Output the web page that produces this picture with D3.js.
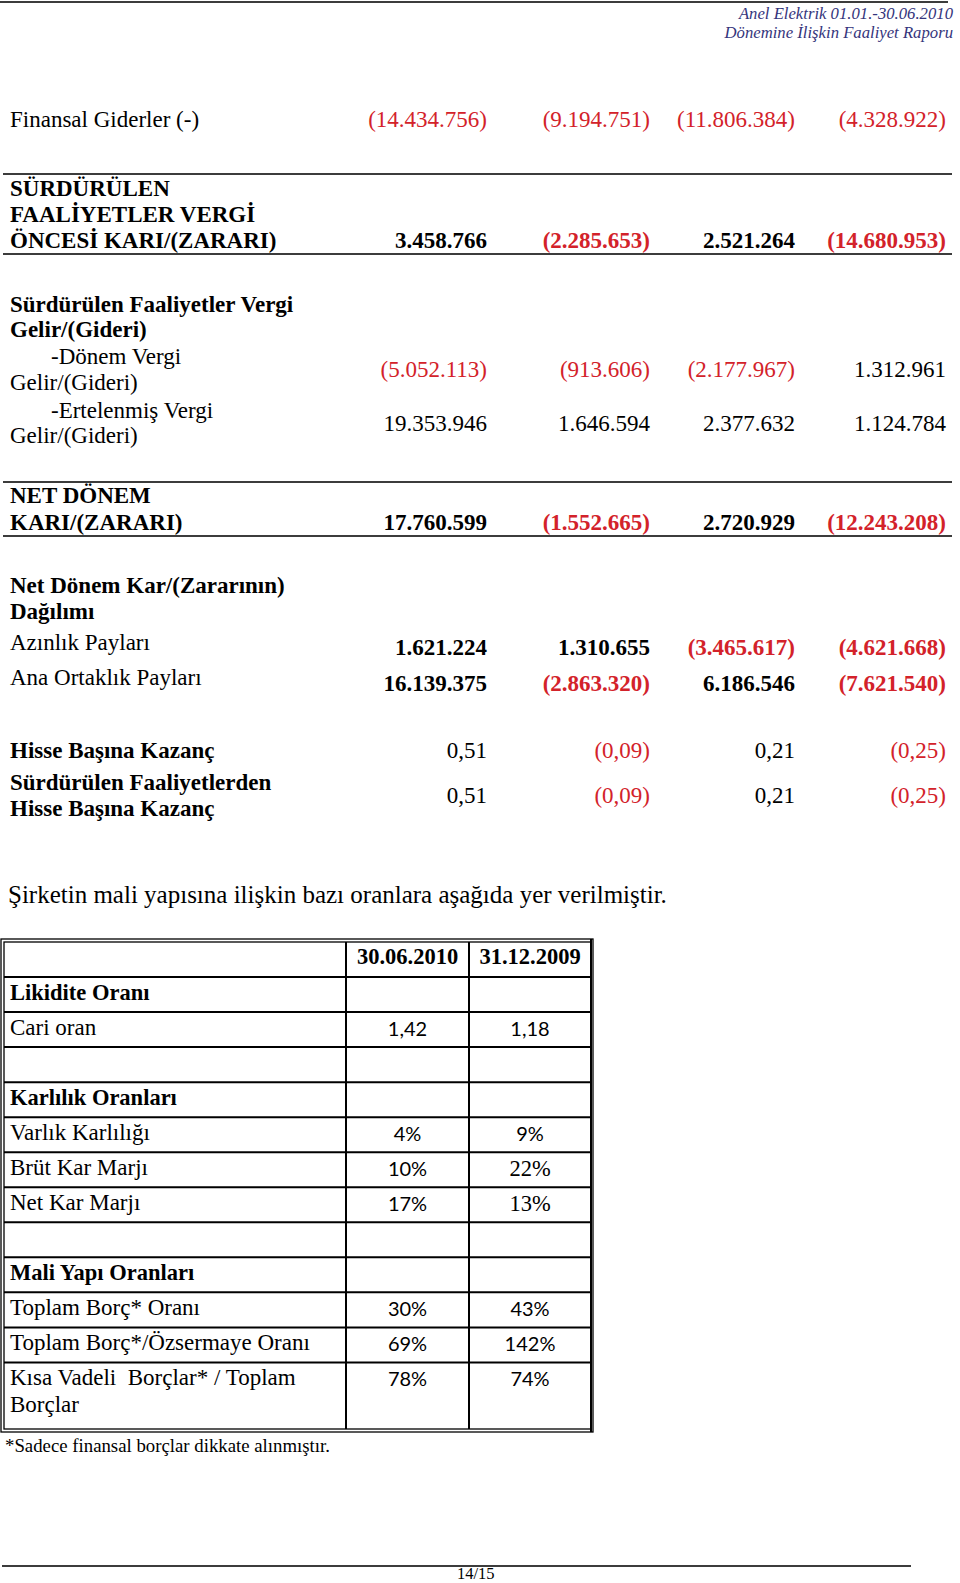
<!DOCTYPE html>
<html>
<head>
<meta charset="utf-8">
<script src="https://cdn.jsdelivr.net/npm/d3@7"></script>
<style>
  html, body { margin: 0; padding: 0; background: #fff; }
  svg { display: block; }
  text { font-family: "Liberation Serif", "Times New Roman", serif; white-space: pre; }
</style>
</head>
<body>
<svg id="page" width="960" height="1583"></svg>
<script>
// ---------------- DATA ----------------
const headerLines = ["Anel Elektrik 01.01.-30.06.2010", "Dönemine İlişkin Faaliyet Raporu"];

const finansalGiderler   = [-14434756, -9194751, -11806384, -4328922];
const vergiOncesiKar     = [3458766, -2285653, 2521264, -14680953];
const donemVergi         = [-5052113, -913606, -2177967, 1312961];
const ertelenmisVergi    = [19353946, 1646594, 2377632, 1124784];
const netDonemKar        = [17760599, -1552665, 2720929, -12243208];
const azinlikPaylari     = [1621224, 1310655, -3465617, -4621668];
const anaOrtaklikPaylari = [16139375, -2863320, 6186546, -7621540];
const hisseBasinaKazanc  = [0.51, -0.09, 0.21, -0.25];
const surdurulenHBK      = [0.51, -0.09, 0.21, -0.25];

const introText = "Şirketin mali yapısına ilişkin bazı oranlara aşağıda yer verilmiştir.";
const ratioDates = ["30.06.2010", "31.12.2009"];
const ratioLabels = [
  ["Likidite Oranı"], ["Cari oran"], [""], ["Karlılık Oranları"],
  ["Varlık Karlılığı"], ["Brüt Kar Marjı"], ["Net Kar Marjı"], [""],
  ["Mali Yapı Oranları"], ["Toplam Borç* Oranı"], ["Toplam Borç*/Özsermaye Oranı"],
  ["Kısa Vadeli  Borçlar* / Toplam", "Borçlar"]
];
const ratio2010 = [null, 1.42, null, null, 0.04, 0.10, 0.17, null, null, 0.30, 0.69, 0.78];
const ratio2009 = [null, 1.18, null, null, 0.09, 0.22, 0.13, null, null, 0.43, 1.42, 0.74];
const ratioKinds = ["head", "dec", "blank", "head", "pct", "pct", "pct", "blank", "head", "pct", "pct", "pct"];
const footnote = "*Sadece finansal borçlar dikkate alınmıştır.";
const pageNumber = "14/15";

// ---------------- STATEMENT STRUCTURE ----------------
const statementRows = [
  { label: ["Finansal Giderler (-)"], values: finansalGiderler, fmt: "int" },
  { label: ["SÜRDÜRÜLEN", "FAALİYETLER VERGİ", "ÖNCESİ KARI/(ZARARI)"], values: vergiOncesiKar, fmt: "int" },
  { label: ["Sürdürülen Faaliyetler Vergi", "Gelir/(Gideri)"], values: null },
  { label: ["-Dönem Vergi", "Gelir/(Gideri)"], values: donemVergi, fmt: "int" },
  { label: ["-Ertelenmiş Vergi", "Gelir/(Gideri)"], values: ertelenmisVergi, fmt: "int" },
  { label: ["NET DÖNEM", "KARI/(ZARARI)"], values: netDonemKar, fmt: "int" },
  { label: ["Net Dönem Kar/(Zararının)", "Dağılımı"], values: null },
  { label: ["Azınlık Payları"], values: azinlikPaylari, fmt: "int" },
  { label: ["Ana Ortaklık Payları"], values: anaOrtaklikPaylari, fmt: "int" },
  { label: ["Hisse Başına Kazanç"], values: hisseBasinaKazanc, fmt: "dec" },
  { label: ["Sürdürülen Faaliyetlerden", "Hisse Başına Kazanç"], values: surdurulenHBK, fmt: "dec" }
];

// ---------------- STYLES / LAYOUT ----------------
const RED = "#d3222a";
const NAVY = "#35357c";
const RULE = "#3c3c3c";
const FS = 23;
const labelBold  = [false, true, true, false, false, true, true, false, false, true, true];
const valueBold  = [false, true, false, false, false, true, false, true, true, false, false];
const firstIndent = [false, false, false, true, true, false, false, false, false, false, false];
const labelBase  = [127, 196, 312, 364, 418, 503, 593, 650, 685, 758, 790];
const valueBase  = [127, 248, 0, 377, 431, 530, 0, 655, 691, 758, 803];
const lineGap = [26, 26, 25, 26, 25, 27, 26, 0, 0, 0, 26];
const rulesY = [174, 254, 482, 536];

const loc = d3.formatLocale({ decimal: ",", thousands: ".", grouping: [3], currency: ["", ""], percent: "%" });
const fInt = loc.format(",d"), fDec = loc.format(".2f"), fPct = loc.format(".0%");
const fmtSigned = (v, kind) => {
  const f = kind === "dec" ? fDec : fInt;
  return v < 0 ? "(" + f(-v) + ")" : f(v);
};

const svg = d3.select("#page");
svg.append("rect").attr("width", 960).attr("height", 1583).attr("fill", "#fff");

// column scale for statement (right edges)
const colX = d3.scaleOrdinal().domain(d3.range(4)).range([487, 650, 795, 946]);

// header
svg.append("line").attr("x1", 0).attr("x2", 948).attr("y1", 2).attr("y2", 2)
  .attr("stroke", RULE).attr("stroke-width", 2);
svg.selectAll("text.hdr").data(headerLines).join("text")
  .attr("class", "hdr")
  .attr("x", 953).attr("y", (d, i) => 19 + i * 19)
  .attr("text-anchor", "end").attr("font-style", "italic")
  .attr("font-size", 16.7).attr("fill", NAVY).text(d => d);

// rules
svg.selectAll("line.rule").data(rulesY).join("line")
  .attr("class", "rule").attr("x1", 3).attr("x2", 952)
  .attr("y1", d => d).attr("y2", d => d)
  .attr("stroke", RULE).attr("stroke-width", 2);

// statement rows
const rowG = svg.selectAll("g.row").data(statementRows).join("g").attr("class", "row");
rowG.each(function (row, i) {
  const g = d3.select(this);
  g.selectAll("text.lbl").data(row.label).join("text")
    .attr("class", "lbl")
    .attr("x", (d, j) => (j === 0 && firstIndent[i]) ? 51 : 10)
    .attr("y", (d, j) => labelBase[i] + j * lineGap[i])
    .attr("font-size", FS)
    .attr("font-weight", labelBold[i] ? "bold" : "normal")
    .attr("fill", "#000").text(d => d);
  if (row.values) {
    g.selectAll("text.val").data(row.values).join("text")
      .attr("class", "val")
      .attr("x", (d, k) => colX(k))
      .attr("y", valueBase[i])
      .attr("text-anchor", "end")
      .attr("font-size", FS)
      .attr("font-weight", valueBold[i] ? "bold" : "normal")
      .attr("fill", d => d < 0 ? RED : "#000")
      .text(d => fmtSigned(d, row.fmt));
  }
});

// intro sentence
svg.append("text").attr("x", 8).attr("y", 903).attr("font-size", 25).text(introText);

// ---------------- RATIO TABLE ----------------
const units = ratioLabels.map(l => l.length > 1 ? 1.9 : 1);
const cum = [0, 1];
units.forEach(u => cum.push(cum[cum.length - 1] + u));
const totalUnits = cum[cum.length - 1];
const yT = d3.scaleLinear().domain([0, totalUnits]).range([942, 1429]);
const colEdges = d3.scaleOrdinal().domain([0, 1, 2, 3]).range([4, 346, 469, 591]);
const colCenter = k => (colEdges(k) + colEdges(k + 1)) / 2;

const tbl = svg.append("g");
// outer double border
tbl.append("rect").attr("x", 1).attr("y", 939).attr("width", 592).attr("height", 493)
  .attr("fill", "none").attr("stroke", "#000").attr("stroke-width", 1.3);
tbl.append("rect").attr("x", 4).attr("y", 942).attr("width", 587).attr("height", 487)
  .attr("fill", "none").attr("stroke", "#000").attr("stroke-width", 1.3);
// horizontal grid
tbl.selectAll("line.h").data(cum.slice(1, -1)).join("line").attr("class", "h")
  .attr("x1", 4).attr("x2", 591).attr("y1", d => yT(d)).attr("y2", d => yT(d))
  .attr("stroke", "#000").attr("stroke-width", 2);
// vertical grid
tbl.selectAll("line.v").data([1, 2]).join("line").attr("class", "v")
  .attr("x1", d => colEdges(d)).attr("x2", d => colEdges(d))
  .attr("y1", 942).attr("y2", 1429)
  .attr("stroke", "#000").attr("stroke-width", 2);
tbl.append("line").attr("x1", 591).attr("x2", 591).attr("y1", 939).attr("y2", 1432)
  .attr("stroke", "#000").attr("stroke-width", 2);

// header dates
tbl.selectAll("text.date").data(ratioDates).join("text").attr("class", "date")
  .attr("x", (d, k) => colCenter(k + 1)).attr("y", yT(0) + 22)
  .attr("text-anchor", "middle").attr("font-size", 22.5).attr("font-weight", "bold").text(d => d);

// label rows
ratioLabels.forEach((lines, i) => {
  const top = yT(cum[i + 1]);
  const isHead = ratioKinds[i] === "head";
  tbl.selectAll(null).data(lines).join("text")
    .attr("x", 10).attr("y", (d, j) => top + 23 + j * 27)
    .attr("font-size", isHead ? 22.5 : 23)
    .attr("font-weight", isHead ? "bold" : "normal")
    .text(d => d);
  const vals = [ratio2010[i], ratio2009[i]];
  vals.forEach((v, k) => {
    if (v == null) return;
    const serif = (k === 1 && (i === 5 || i === 6));
    tbl.append("text")
      .attr("x", colCenter(k + 1)).attr("y", top + 24)
      .attr("text-anchor", "middle")
      .style("font-family", serif ? "'Liberation Serif', serif" : "Lato, 'Open Sans', sans-serif")
      .attr("font-size", serif ? 22.5 : 20)
      .text(ratioKinds[i] === "dec" ? fDec(v) : fPct(v));
  });
});

// footnote
svg.append("text").attr("x", 5).attr("y", 1452).attr("font-size", 18.8).text(footnote);

// footer
svg.append("line").attr("x1", 2).attr("x2", 911).attr("y1", 1566).attr("y2", 1566)
  .attr("stroke", RULE).attr("stroke-width", 2);
svg.append("text").attr("x", 457).attr("y", 1579).attr("font-size", 16.5).text(pageNumber);
</script>
</body>
</html>
